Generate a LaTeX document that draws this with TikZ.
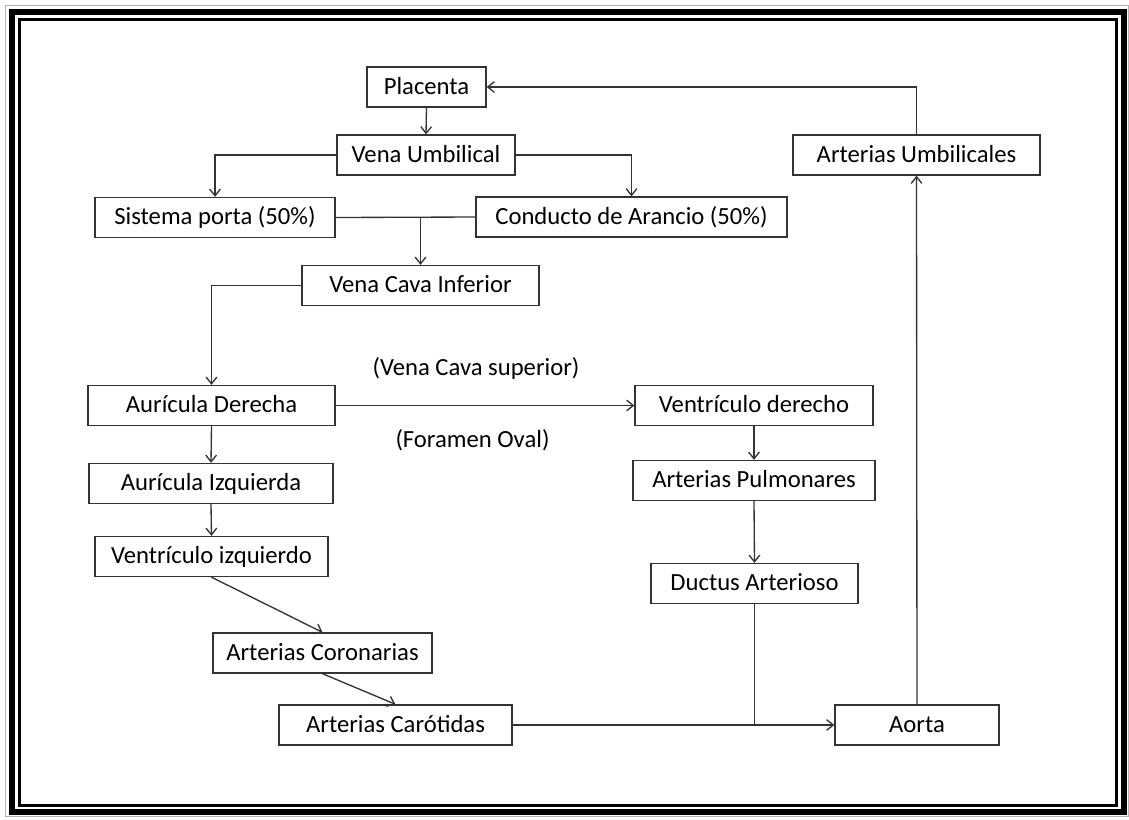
\documentclass[tikz,border=0pt]{standalone}
\usepackage{fontspec}
\setmainfont{Carlito}
\usetikzlibrary{arrows.meta}
\begin{document}
\begin{tikzpicture}[x=0.75pt,y=-0.75pt,
  box/.style={draw=black!80, line width=1pt, inner sep=0pt, minimum height=30pt,
    text height=14.5pt, text depth=4pt,
    font=\fontsize{18.5pt}{22pt}\selectfont},
  lbl/.style={inner sep=0pt, text height=14.5pt, text depth=4pt,
    font=\fontsize{18.5pt}{22pt}\selectfont},
  conn/.style={draw=black!80, line width=1pt, -{Straight Barb[length=5pt,width=8pt]}},
  plain/.style={draw=black!80, line width=1pt}]
\useasboundingbox (0,0) rectangle (1129,819);
\fill[white] (0,0) rectangle (1129,819);
% frame
\draw[gray!60, line width=1.1pt] (5.5,5.5) rectangle (1128.5,816.5);
\draw[black, line width=4.5pt] (11.5,11.5) rectangle (1124,812);
\draw[black, line width=2.25pt] (19,19) rectangle (1116.5,805.5);
% nodes
\node[box, minimum width=89.25pt]  (P)   at (426.5,87)  {Placenta};
\node[box, minimum width=133.5pt]  (VU)  at (426,155)   {Vena Umbilical};
\node[box, minimum width=180pt]    (SP)  at (215,217.5) {Sistema porta (50\%)};
\node[box, minimum width=233.25pt] (CA)  at (631.5,217) {Conducto de Arancio (50\%)};
\node[box, minimum width=177.75pt] (VCI) at (420.5,285.5) {Vena Cava Inferior};
\node[box, minimum width=185.25pt] (AD)  at (211.5,405.5) {Aurícula Derecha};
\node[box, minimum width=178.5pt]  (VD)  at (754,405.5) {Ventrículo derecho};
\node[box, minimum width=181.5pt]  (AP)  at (754,480.5) {Arterias Pulmonares};
\node[box, minimum width=183pt]    (AI)  at (211,483.5) {Aurícula Izquierda};
\node[box, minimum width=174.75pt] (VI)  at (211.5,556.5) {Ventrículo izquierdo};
\node[box, minimum width=155.25pt] (DA)  at (754.5,583.5) {Ductus Arterioso};
\node[box, minimum width=164.25pt] (AC)  at (322.5,653) {Arterias Coronarias};
\node[box, minimum width=174.75pt] (ACa) at (395.5,725) {Arterias Carótidas};
\node[box, minimum width=123pt]    (AO)  at (917,725)   {Aorta};
\node[box, minimum width=185.25pt] (AU)  at (916.5,155) {Arterias Umbilicales};
\node[lbl] (L1) at (476,368) {(Vena Cava superior)};
\node[lbl] (L2) at (472.5,440) {(Foramen Oval)};
% connectors
\draw[conn] (P.south) -- (VU.north);
\draw[conn] (VU.west) -| (SP.north);
\draw[conn] (VU.east) -| (CA.north);
\draw[plain] (SP.east) -- (CA.west);
\coordinate (J1) at (VCI.north |- SP.east);
\draw[conn] (J1) -- (VCI.north);
\draw[conn] (VCI.west) -| (AD.north);
\draw[conn] (AD.east) -- (VD.west);
\draw[conn] (AD.south) -- (AI.north);
\draw[conn] (AI.south) -- (VI.north);
\draw[conn] (VI.south) -- (AC.north);
\draw[conn] (AC.south) -- (ACa.north);
\draw[conn] (ACa.east) -- (AO.west);
\coordinate (J2) at (DA.south |- AO.west);
\draw[plain] (DA.south) -- (J2);
\draw[conn] (VD.south) -- (AP.north);
\draw[conn] (AP.south) -- (DA.north);
\draw[conn] (AO.north) -- (AU.south);
\draw[conn] (AU.north) |- (P.east);
\end{tikzpicture}
\end{document}
